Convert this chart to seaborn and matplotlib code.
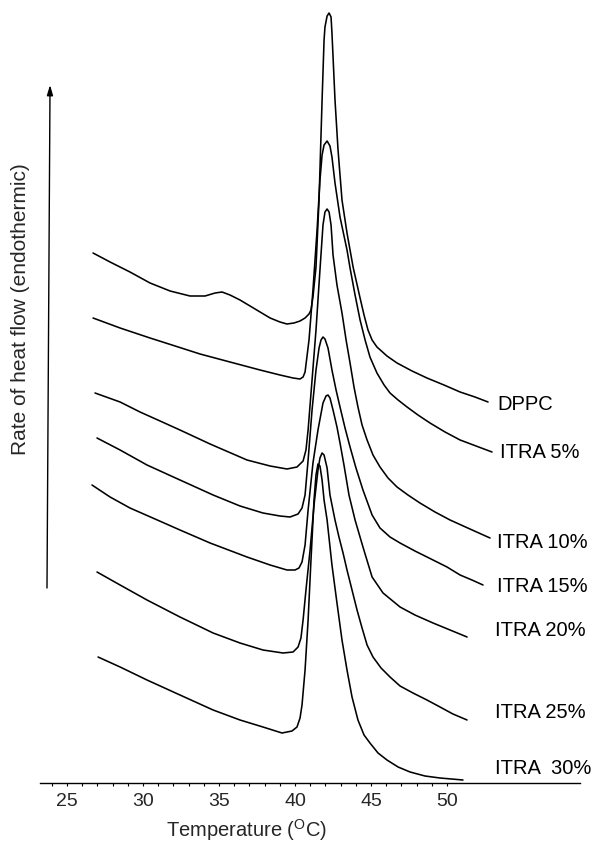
import numpy as np
import pandas as pd
import matplotlib
matplotlib.use("Agg")
import matplotlib.pyplot as plt
import seaborn as sns

# ---------------- data (temperature in degC, heat flow in arbitrary units) ----------------
samples = ["DPPC", "ITRA 5%", "ITRA 10%", "ITRA 15%", "ITRA 20%", "ITRA 25%", "ITRA  30%"]

temp_dppc = [26.71, 27.83, 29.14, 30.46, 31.78, 33.09, 34.08, 34.74, 35.20, 35.72,
             36.38, 37.04, 37.70, 38.36, 39.01, 39.47, 39.93, 40.33, 40.66, 40.92,
             41.05, 41.18, 41.38, 41.58, 41.78, 41.91, 41.97, 42.11, 42.24, 42.37,
             42.43, 42.63, 42.83, 43.09, 43.42, 43.82, 44.28, 44.54, 44.80, 45.07,
             45.39, 46.05, 46.71, 47.70, 48.68, 49.80, 50.86, 51.84, 52.70]
flow_dppc = [530, 521, 511, 500, 492, 487, 487, 490, 491, 488,
             483, 477, 471, 465, 461, 459, 460, 462, 465, 469,
             473, 486, 516, 583, 683, 743, 756, 767, 770, 766,
             750, 683, 633, 583, 550, 516, 485, 468, 453, 443,
             436, 427, 420, 412, 405, 398, 391, 386, 381]

temp_05 = [26.71, 28.49, 30.46, 32.11, 33.75, 35.72, 37.70, 39.01, 39.87, 40.33,
           40.53, 40.66, 40.92, 41.18, 41.45, 41.64, 41.78, 41.91, 42.11, 42.30,
           42.43, 42.63, 42.96, 43.42, 43.62, 43.95, 44.28, 44.61, 44.93, 45.39,
           45.86, 46.25, 46.78, 47.37, 48.09, 48.88, 49.87, 50.86, 51.91, 52.96]
flow_05 = [465, 455, 445, 437, 429, 421, 413, 408, 405, 404,
           406, 411, 443, 493, 553, 603, 628, 638, 642, 637,
           626, 600, 566, 533, 515, 488, 463, 443, 426, 410,
           398, 390, 383, 376, 368, 360, 351, 343, 337, 331]

temp_10 = [26.84, 28.49, 29.80, 31.12, 32.43, 34.41, 36.84, 38.36, 39.47, 40.13,
           40.53, 40.72, 40.86, 41.12, 41.38, 41.64, 41.84, 41.97, 42.11, 42.24,
           42.37, 42.50, 42.76, 43.09, 43.36, 43.62, 43.88, 44.14, 44.41, 44.74,
           45.13, 45.59, 46.12, 46.71, 47.43, 48.22, 49.21, 50.20, 51.51, 52.83]
flow_10 = [390, 381, 371, 362, 353, 339, 323, 317, 314, 316,
           322, 333, 353, 403, 453, 513, 558, 571, 574, 571,
           558, 528, 498, 470, 443, 420, 396, 376, 358, 343,
           328, 316, 305, 296, 288, 280, 271, 263, 254, 245]

temp_15 = [26.97, 28.49, 30.26, 32.43, 34.61, 36.38, 37.89, 39.01, 39.67, 40.20,
           40.46, 40.66, 40.86, 41.12, 41.38, 41.58, 41.71, 41.84, 41.97, 42.17,
           42.43, 42.70, 42.96, 43.29, 43.62, 44.01, 44.47, 45.07, 45.59, 46.25,
           46.91, 47.89, 49.08, 50.00, 50.86, 51.64, 52.37]
flow_15 = [345, 333, 318, 303, 288, 277, 270, 267, 266, 269,
           275, 288, 323, 373, 413, 435, 443, 446, 444, 435,
           413, 393, 376, 355, 336, 315, 293, 268, 255, 246,
           240, 232, 223, 216, 208, 203, 198]

temp_20 = [26.64, 27.83, 29.14, 30.79, 32.43, 34.41, 36.84, 38.36, 39.47, 40.00,
           40.26, 40.46, 40.66, 40.86, 41.18, 41.51, 41.84, 42.04, 42.17, 42.30,
           42.50, 42.76, 42.96, 43.22, 43.55, 43.95, 44.47, 45.07, 45.79, 46.91,
           47.89, 49.08, 50.20, 51.32]
flow_20 = [298, 286, 275, 264, 253, 240, 226, 218, 213, 213,
           215, 221, 238, 273, 320, 353, 380, 387, 388, 385,
           373, 356, 340, 318, 288, 263, 236, 206, 190, 176,
           168, 160, 153, 146]

temp_25 = [26.97, 28.49, 30.26, 32.43, 34.61, 36.38, 37.89, 39.21, 39.87, 40.20,
           40.39, 40.53, 40.72, 40.99, 41.25, 41.51, 41.64, 41.78, 41.91, 42.11,
           42.30, 42.63, 42.89, 43.16, 43.42, 43.75, 44.08, 44.41, 44.74, 45.13,
           45.66, 46.25, 46.91, 47.76, 48.68, 49.54, 50.39, 51.32]
flow_25 = [211, 198, 183, 166, 150, 140, 133, 130, 131, 136,
           145, 163, 193, 233, 278, 313, 325, 330, 328, 315,
           288, 263, 246, 230, 213, 193, 173, 155, 138, 126,
           115, 106, 97, 90, 83, 76, 69, 63]

temp_30 = [27.04, 28.49, 30.26, 32.43, 34.61, 36.38, 37.89, 39.14, 39.80, 40.13,
           40.33, 40.46, 40.66, 40.86, 41.05, 41.25, 41.38, 41.51, 41.64, 41.78,
           41.91, 42.11, 42.43, 42.76, 43.09, 43.42, 43.75, 44.14, 44.54, 44.93,
           45.46, 46.05, 46.78, 47.57, 48.55, 49.54, 51.05]
flow_30 = [126, 116, 103, 88, 73, 63, 56, 50, 52, 56,
           65, 78, 113, 163, 223, 283, 308, 319, 317, 303,
           283, 263, 218, 180, 143, 113, 86, 63, 48, 40,
           30, 23, 16, 11, 7, 5, 3]

temps = [temp_dppc, temp_05, temp_10, temp_15, temp_20, temp_25, temp_30]
flows = [flow_dppc, flow_05, flow_10, flow_15, flow_20, flow_25, flow_30]

tick_values = [25, 30, 35, 40, 45, 50]

# ---------------- layout ----------------
label_pos = [(53.29, 378), (53.49, 331), (53.29, 241), (53.29, 196),
             (53.16, 153), (53.16, 70), (53.16, 15)]

sns.set_theme(style="white")
plt.rcParams["font.family"] = ["Liberation Sans", "DejaVu Sans"]
plt.rcParams["mathtext.fontset"] = "custom"
plt.rcParams["mathtext.rm"] = "Liberation Sans"

W, H = 592, 843
fig = plt.figure(figsize=(W / 100, H / 100), dpi=100)
fig.patch.set_facecolor("white")
ax = fig.add_axes([40 / W, 60 / H, 540 / W, 783 / H])
ax.set_facecolor("white")

for name, t, f in zip(samples, temps, flows):
    df = pd.DataFrame({"Temperature": t, "Flow": f})
    sns.lineplot(data=df, x="Temperature", y="Flow", ax=ax, color="black",
                 linewidth=1.15, sort=False, estimator=None)

for name, (tx, ty) in zip(samples, label_pos):
    ax.text(tx, ty, name, fontsize=14.5, color="black", ha="left", va="center")

ax.set_xlim(23.22, 58.75)
ax.set_ylim(0, 783)

for s in ["top", "right", "left"]:
    ax.spines[s].set_visible(False)
ax.spines["bottom"].set_color("black")
ax.spines["bottom"].set_linewidth(1.0)

ax.set_xticks(tick_values)
ax.set_xticklabels([str(v) for v in tick_values])
ax.set_xticks(np.arange(24, 51, 1), minor=True)
ax.tick_params(axis="x", which="both", direction="out", length=2.5, width=0.8,
               color="black", bottom=True, labelsize=14, pad=5)
ax.set_yticks([])

ax.set_xlabel(r"Temperature ($^{\mathrm{O}}$C)", fontsize=14.5, va="center")
ax.xaxis.set_label_coords(0.383, -0.060)

ax.set_ylabel("Rate of heat flow (endothermic)", fontsize=15, va="center")
ax.yaxis.set_label_coords(-0.037, 0.605)

# vertical arrow (y-axis)
ax.annotate("", xy=(23.88, 698), xytext=(23.68, 195),
            arrowprops=dict(arrowstyle="-|>,head_length=0.5,head_width=0.15",
                            color="black", lw=1.0, shrinkA=0, shrinkB=0),
            annotation_clip=False)

ax.grid(False)
fig.savefig("out.png", dpi=100, facecolor="white")
